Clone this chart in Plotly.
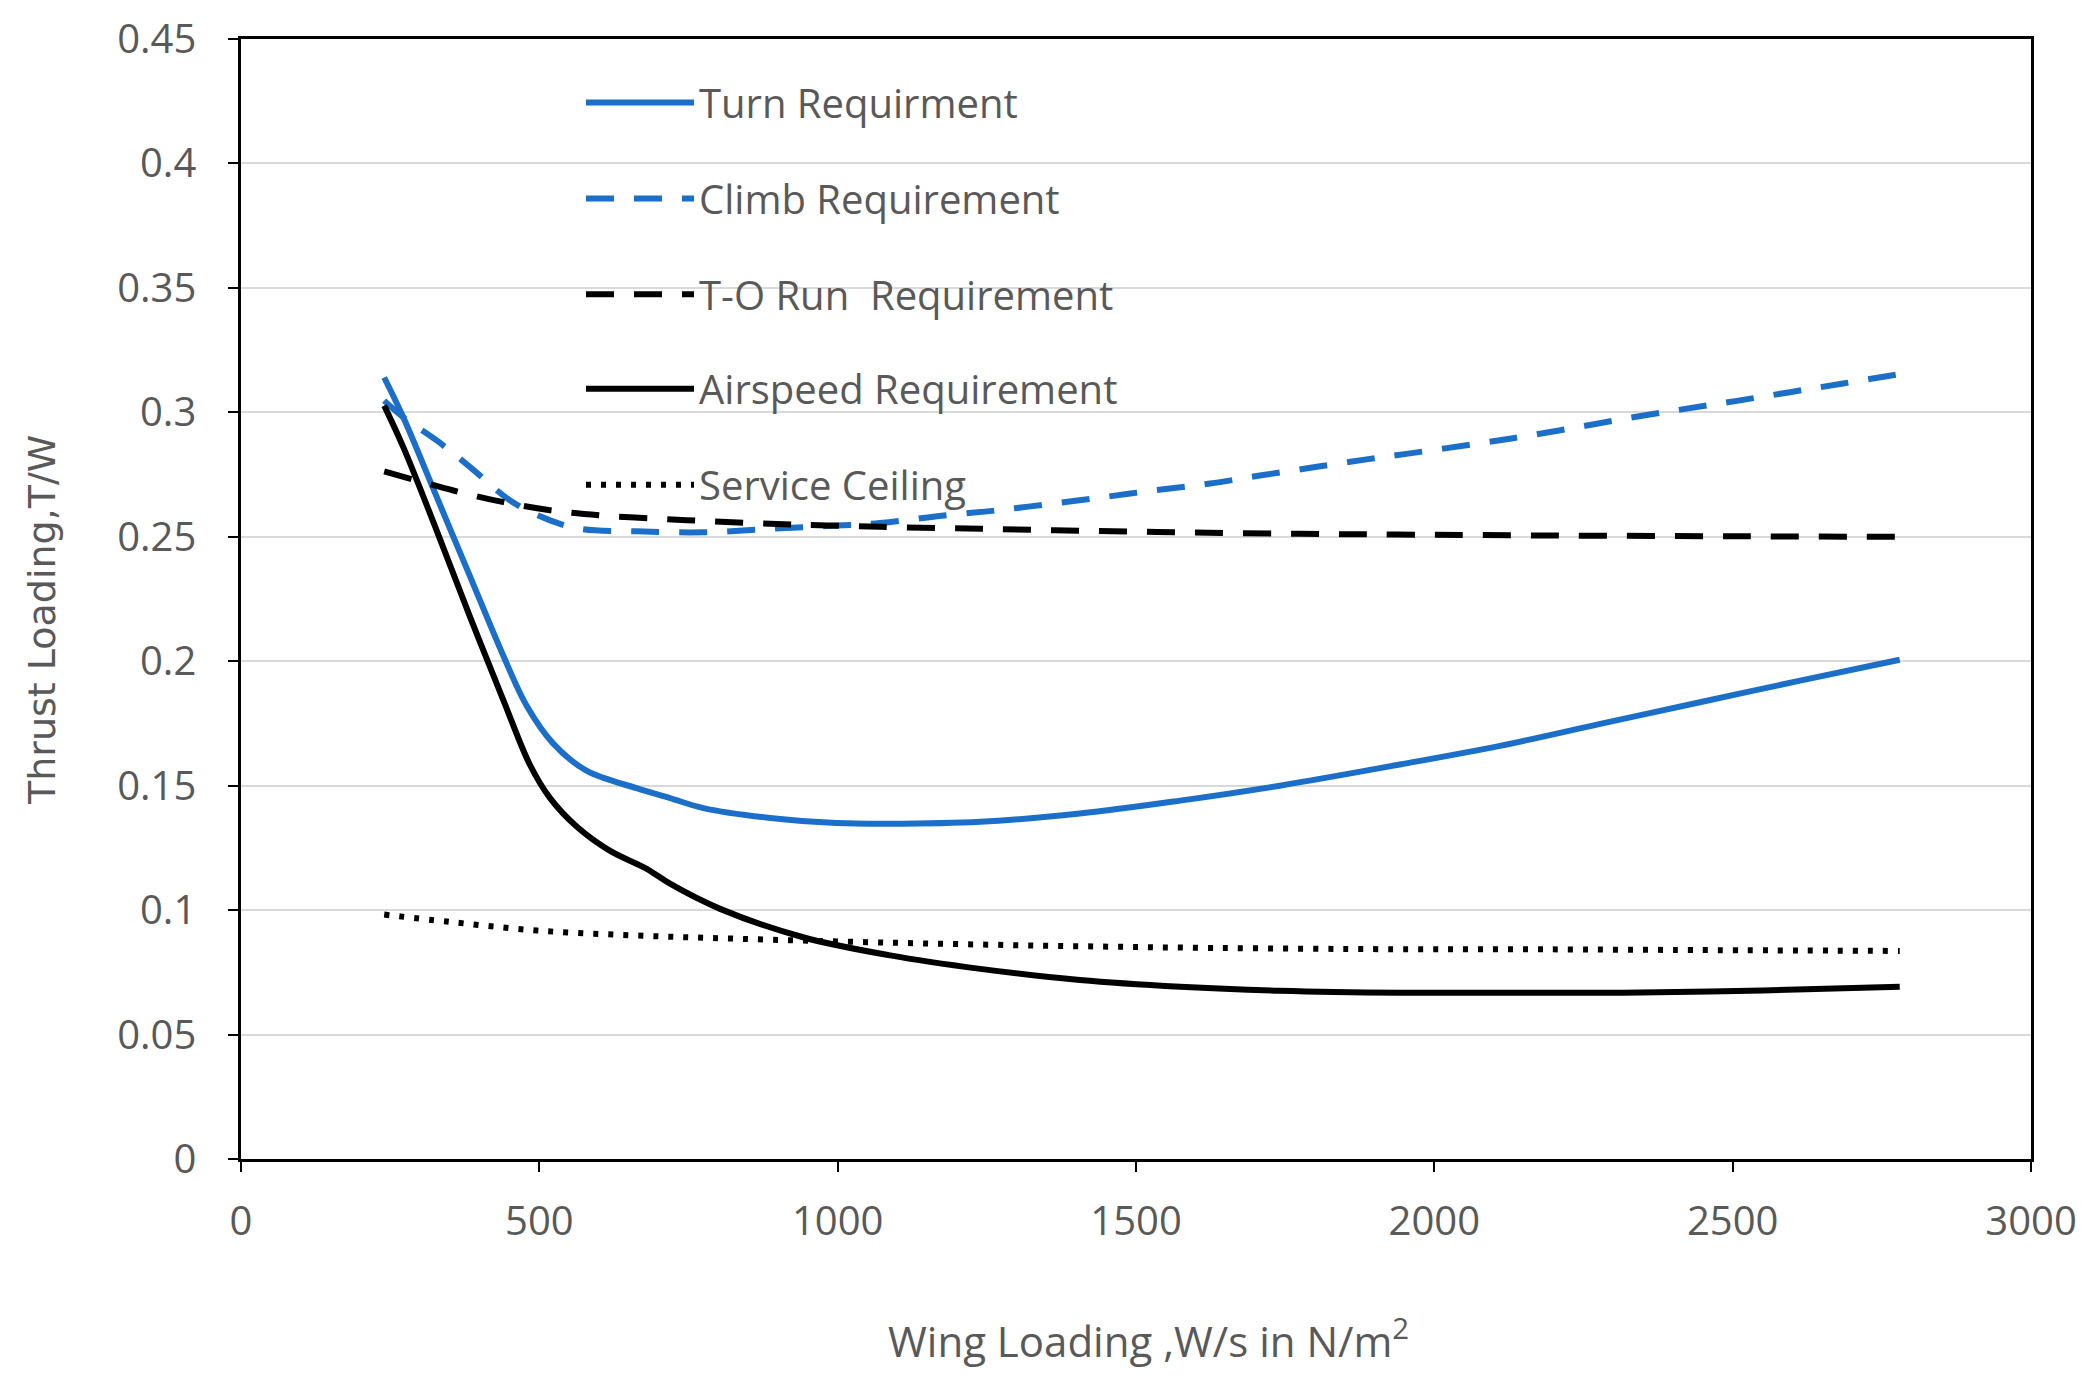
import plotly.graph_objects as go

# ---------------- data ----------------
turn_x = [240, 272, 328, 384, 440, 479, 523, 579, 663, 719, 775, 887, 998, 1088,
          1239, 1406, 1574, 1741, 1942, 2110, 2278, 2445, 2613, 2780]
turn_y = [0.314, 0.298, 0.266, 0.234, 0.202, 0.182, 0.167, 0.156, 0.149, 0.145,
          0.141, 0.137, 0.135, 0.1347, 0.1355, 0.1388, 0.1440, 0.1500, 0.1585,
          0.1660, 0.1748, 0.1835, 0.1922, 0.2006]

climb_x = [240, 272, 328, 384, 451, 512, 568, 663, 775, 887, 998, 1071, 1183, 1266,
           1356, 1445, 1535, 1624, 1713, 1803, 1889, 1956, 2065, 2155, 2244, 2333,
           2423, 2507, 2596, 2685, 2780]
climb_y = [0.3047, 0.298, 0.2887, 0.278, 0.2646, 0.2572, 0.2532, 0.2522, 0.2518,
           0.2532, 0.2545, 0.2555, 0.2587, 0.2606, 0.2632, 0.2659, 0.2688, 0.2714,
           0.2748, 0.2781, 0.2812, 0.2834, 0.2872, 0.2905, 0.2942, 0.2980, 0.3015,
           0.3046, 0.3081, 0.3116, 0.3154]

to_x = [240, 356, 440, 523, 607, 702, 792, 887, 970, 1071, 1239, 1417, 1596, 1775,
        1937, 2200, 2500, 2780]
to_y = [0.2763, 0.2686, 0.2639, 0.2605, 0.2585, 0.2572, 0.2562, 0.2552, 0.2546,
        0.2540, 0.2532, 0.2524, 0.2517, 0.2512, 0.2509, 0.2505, 0.2502, 0.2500]

air_x = [240, 272, 328, 384, 440, 484, 518, 563, 618, 680, 719, 803, 942, 1088,
         1239, 1406, 1574, 1741, 1942, 2110, 2316, 2550, 2780]
air_y = [0.3027, 0.286, 0.2525, 0.2177, 0.1842, 0.1585, 0.1450, 0.1335, 0.1239,
         0.1166, 0.1106, 0.1005, 0.0891, 0.0818, 0.0764, 0.0719, 0.0692, 0.0676,
         0.0668, 0.0668, 0.0668, 0.0677, 0.0692]

ceil_x = [240, 345, 496, 663, 831, 1071, 1350, 1629, 1931, 2110, 2400, 2780]
ceil_y = [0.0982, 0.0954, 0.0918, 0.0898, 0.0885, 0.0870, 0.0857, 0.0848, 0.0843,
          0.0843, 0.0840, 0.0836]

series_names = ["Turn Requirment", "Climb Requirement", "T-O Run  Requirement",
                "Airspeed Requirement", "Service Ceiling"]

x_title = "Wing Loading ,W/s in N/m<sup>2</sup>"
y_title = "Thrust Loading,T/W"

# ---------------- styling ----------------
BLUE = "#1B6FC8"
TXT = "#595959"
FONT = "Open Sans"

series = [
    (series_names[0], turn_x, turn_y, BLUE, "solid", "legend"),
    (series_names[1], climb_x, climb_y, BLUE, "28px,20px", "legend2"),
    (series_names[2], to_x, to_y, "black", "28px,20px", "legend3"),
    (series_names[3], air_x, air_y, "black", "solid", "legend4"),
    (series_names[4], ceil_x, ceil_y, "black", "5px,10px", "legend5"),
]

fig = go.Figure()
for name, xs, ys, color, dash, lg in series:
    fig.add_trace(go.Scatter(
        x=xs, y=ys, name=name, mode="lines",
        line=dict(color=color, width=6, dash=dash, shape="spline", smoothing=1.0),
        legend=lg,
    ))

# page offset of the plot div (body margin)
OFF = 8
W, H = 2088 - 2 * OFF, 1386 - 2 * OFF
# plot area in page pixels: left 241, right 2031, top 39, bottom 1159
L, R, T, B = 241, 2031, 39, 1159
pw, ph = R - L, B - T

def px_x(px):
    return (px - L) / pw

def px_y(py):
    return (B - py) / ph

legend_rows = [102.5, 198.4, 294.3, 388.8, 484.7]
legend_common = dict(
    xanchor="left", yanchor="middle", bgcolor="rgba(0,0,0,0)",
    font=dict(family=FONT, size=40, color=TXT), itemwidth=108,
    borderwidth=0,
)
layout_legends = {}
for i, row in enumerate(legend_rows):
    key = "legend" if i == 0 else f"legend{i+1}"
    layout_legends[key] = dict(x=px_x(581), y=px_y(row), **legend_common)

fig.update_layout(
    width=W, height=H,
    margin=dict(l=L - OFF, r=W + OFF - R, t=T - OFF, b=H + OFF - B, pad=0,
                autoexpand=False),
    plot_bgcolor="white", paper_bgcolor="white",
    showlegend=True,
    font=dict(family=FONT, color=TXT),
    **layout_legends,
)

fig.update_xaxes(
    range=[0, 3000], tick0=0, dtick=500, showgrid=False, zeroline=False,
    showline=True, linecolor="black", linewidth=2.5, mirror=True,
    ticks="outside", ticklen=10, tickwidth=2, tickcolor="black",
    tickfont=dict(family=FONT, size=40, color=TXT), ticklabelstandoff=15,
    automargin=False,
)
fig.update_yaxes(
    range=[0, 0.45], tick0=0, dtick=0.05, showgrid=True, gridcolor="#D9D9D9",
    gridwidth=2, zeroline=False,
    showline=True, linecolor="black", linewidth=2.5, mirror=True,
    ticks="outside", ticklen=10, tickwidth=2, tickcolor="black",
    tickfont=dict(family=FONT, size=40, color=TXT), ticklabelstandoff=24,
    automargin=False,
)

fig.add_annotation(
    text=x_title, xref="paper", yref="paper", x=px_x(1148), y=px_y(1338),
    xanchor="center", yanchor="middle", showarrow=False,
    font=dict(family=FONT, size=42, color=TXT),
)
fig.add_annotation(
    text=y_title, xref="paper", yref="paper", x=px_x(42), y=px_y(620),
    xanchor="center", yanchor="middle", showarrow=False, textangle=-90,
    font=dict(family="DejaVu Sans", size=38, color=TXT),
)

fig.write_html("out.html")
